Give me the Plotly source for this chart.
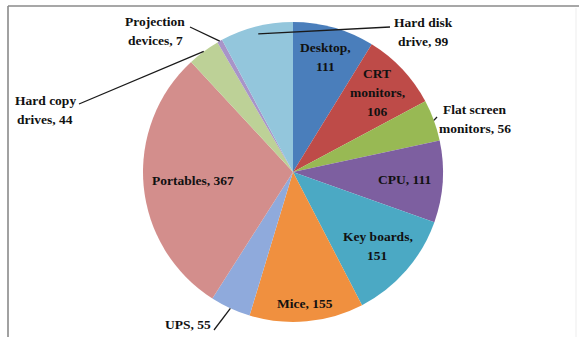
import math
import plotly.graph_objects as go

# ---------------- data ----------------
categories = ["Desktop", "CRT monitors", "Flat screen monitors", "CPU", "Key boards",
              "Mice", "UPS", "Portables", "Hard copy drives", "Projection devices",
              "Hard disk drive"]
values = [111, 106, 56, 111, 151, 155, 55, 367, 44, 7, 99]

# ---------------- style ----------------
colors = ["#4A7EBB", "#BE4B48", "#98B954", "#7D5FA0", "#4BA9C4", "#F0903F",
          "#8FAADC", "#D38E8C", "#BDD197", "#A894C8", "#93C6DC"]

# how each label is broken into lines ({v} = value)
label_lines = [
    ["Desktop,", "{v}"],
    ["CRT", "monitors,", "{v}"],
    ["Flat screen", "monitors, {v}"],
    ["CPU, {v}"],
    ["Key boards,", "{v}"],
    ["Mice, {v}"],
    ["UPS, {v}"],
    ["Portables, {v}"],
    ["Hard copy", "drives, {v}"],
    ["Projection", "devices, {v}"],
    ["Hard disk", "drive, {v}"],
]
# inside labels: radial fraction; outside labels: (text centre px, leader end px)
inside_frac = {0: 0.80, 1: 0.77, 3: 0.75, 4: 0.75, 5: 0.88, 7: 0.67}
outside_pos = {
    2: ((475, 119), (437, 117)),
    6: ((188, 324), (214, 330)),
    8: ((45, 110), (79, 104)),
    9: ((155, 31), (190, 27)),
    10: ((423, 32), (390, 27)),
}
anchor_frac = {10: 0.95}

W, H = 579, 337
CX, CY, R = 293, 172, 150
LINE_H = 19
FONT = dict(family="Liberation Serif, Times New Roman, serif", size=13.5, color="#111111")


def px(x, y):
    return x / W, 1 - y / H


fig = go.Figure(go.Pie(
    labels=categories, values=values, sort=False, direction="clockwise", rotation=0,
    marker=dict(colors=colors, line=dict(width=0)),
    textinfo="none", hoverinfo="label+value", showlegend=False,
    domain=dict(x=[(CX - R) / W, (CX + R) / W], y=[1 - (CY + R) / H, 1 - (CY - R) / H]),
))

total = sum(values)
cum = 0
annotations = []
shapes = []
for i, (cat, v) in enumerate(zip(categories, values)):
    mid = (cum + v / 2) / total * 2 * math.pi
    cum += v
    lines = [s.format(v=v) for s in label_lines[i]]
    if i in inside_frac:
        f = inside_frac[i]
        tx = CX + R * f * math.sin(mid)
        ty = CY - R * f * math.cos(mid)
    else:
        (tx, ty), (lx, ly) = outside_pos[i]
        fa = anchor_frac.get(i, 1.0)
        ax_ = CX + R * fa * math.sin(mid)
        ay_ = CY - R * fa * math.cos(mid)
        x0, y0 = px(ax_, ay_)
        x1, y1 = px(lx, ly)
        shapes.append(dict(type="line", xref="paper", yref="paper", x0=x0, y0=y0, x1=x1, y1=y1,
                           line=dict(color="#1a1a1a", width=1.3)))
    n = len(lines)
    for k, t in enumerate(lines):
        yy = ty + (k - (n - 1) / 2) * LINE_H
        xp, yp = px(tx, yy)
        annotations.append(dict(x=xp, y=yp, xref="paper", yref="paper", text="<b>%s</b>" % t,
                                showarrow=False, font=FONT, xanchor="center", yanchor="middle"))

# chart frame
shapes += [
    dict(type="line", xref="paper", yref="paper", x0=8 / W, x1=1, y0=1 - 6 / H, y1=1 - 6 / H,
         line=dict(color="#8a8a8a", width=1.6)),
    dict(type="line", xref="paper", yref="paper", x0=8 / W, x1=8 / W, y0=0, y1=1 - 6 / H,
         line=dict(color="#8a8a8a", width=1.6)),
    dict(type="line", xref="paper", yref="paper", x0=576 / W, x1=576 / W, y0=0, y1=1 - 8 / H,
         line=dict(color="#ededed", width=1)),
]

fig.update_layout(
    width=W, height=H, margin=dict(l=0, r=0, t=0, b=0),
    paper_bgcolor="white", plot_bgcolor="white",
    annotations=annotations, shapes=shapes, showlegend=False,
)

fig.write_html("out.html")
